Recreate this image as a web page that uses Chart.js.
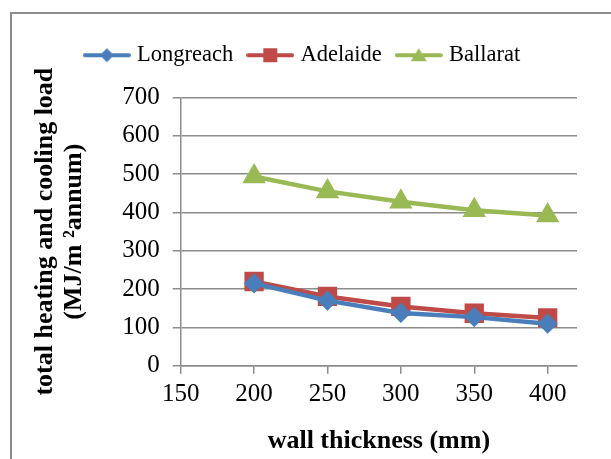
<!DOCTYPE html>
<html>
<head>
<meta charset="utf-8">
<script src="https://cdn.jsdelivr.net/npm/chart.js@4"></script>
<style>
  body { margin: 0; background: #fff; }
  #wrap { position: relative; width: 611px; height: 459px; overflow: hidden; }
  #frame { position: absolute; left: 10px; top: 12px; width: 640px; height: 480px; border: 2px solid #8c8c8c; box-sizing: border-box; }
  canvas { position: absolute; left: 0; top: 0; }
</style>
</head>
<body>
<div id="wrap">
  <div id="frame"></div>
  <canvas id="chart" width="611" height="459"></canvas>
</div>
<script>
'use strict';

// wall thickness (mm)
let thickness = [200, 250, 300, 350, 400];
let longreach = [215, 170, 138, 127, 110];
let adelaide = [220, 181, 155, 137, 125];
let ballarat = [494, 455, 428, 406, 392];
let xTicks = [150, 200, 250, 300, 350, 400];

let blue = '#4a7ebb';
let red = '#be4b48';
let green = '#98b954';

// little canvas with a line and the marker in the middle, used as legend symbol
function legendIcon(color, marker) {
  let c = document.createElement('canvas');
  c.width = 48;
  c.height = 16;
  let ctx = c.getContext('2d');
  ctx.strokeStyle = color;
  ctx.fillStyle = color;
  ctx.lineWidth = 4;
  ctx.lineCap = 'round';
  ctx.beginPath();
  ctx.moveTo(2, 8);
  ctx.lineTo(46, 8);
  ctx.stroke();
  ctx.beginPath();
  if (marker === 'diamond') {
    ctx.moveTo(24, 1); ctx.lineTo(31, 8); ctx.lineTo(24, 15); ctx.lineTo(17, 8);
  } else if (marker === 'square') {
    ctx.rect(17, 1, 14, 14);
  } else {
    ctx.moveTo(24, 1); ctx.lineTo(32, 14); ctx.lineTo(16, 14);
  }
  ctx.closePath();
  ctx.fill();
  return c;
}

function toPoints(values) {
  return values.map((v, i) => ({ x: thickness[i], y: v }));
}

let serif = 'Liberation Serif';

// push the plot area down a bit below the legend
let legendMargin = {
  id: 'legendMargin',
  beforeInit(chart) {
    let fit = chart.legend.fit;
    chart.legend.fit = function () {
      fit.bind(chart.legend)();
      this.height += 21;
    };
  }
};

let ctx = document.getElementById('chart').getContext('2d');
let chart = new Chart(ctx, {
  type: 'line',
  data: {
    datasets: [
      {
        label: 'Longreach',
        data: toPoints(longreach),
        borderColor: blue,
        backgroundColor: blue,
        borderWidth: 4.5,
        pointStyle: 'rectRot',
        pointRadius: 7,
        legendIcon: legendIcon(blue, 'diamond')
      },
      {
        label: 'Adelaide',
        data: toPoints(adelaide),
        borderColor: red,
        backgroundColor: red,
        borderWidth: 4.5,
        pointStyle: 'rect',
        pointRadius: 10.5,
        legendIcon: legendIcon(red, 'square')
      },
      {
        label: 'Ballarat',
        data: toPoints(ballarat),
        borderColor: green,
        backgroundColor: green,
        borderWidth: 4.5,
        pointStyle: 'triangle',
        pointRadius: 9,
        legendIcon: legendIcon(green, 'triangle')
      }
    ]
  },
  plugins: [legendMargin],
  options: {
    responsive: false,
    animation: false,
    layout: { padding: { left: 31, right: 34, top: 26, bottom: 2 } },
    plugins: {
      tooltip: { enabled: false },
      legend: {
        labels: {
          font: { family: serif, size: 22.5 },
          color: '#000',
          usePointStyle: true,
          pointStyleWidth: 38,
          padding: 18,
          generateLabels: function (ch) {
            return ch.data.datasets.map((ds, i) => ({
              text: ds.label,
              pointStyle: ds.legendIcon,
              fillStyle: ds.borderColor,
              strokeStyle: ds.borderColor,
              lineWidth: 0,
              datasetIndex: i,
              hidden: false
            }));
          }
        }
      }
    },
    scales: {
      x: {
        type: 'linear',
        min: 150,
        max: 420,
        afterBuildTicks: function (scale) {
          scale.ticks = xTicks.map(v => ({ value: v }));
        },
        ticks: { font: { family: serif, size: 25 }, color: '#000', padding: 6, maxRotation: 0 },
        grid: { drawOnChartArea: false, color: '#8c8c8c', lineWidth: 1.5, tickLength: 8 },
        border: { color: '#8c8c8c', width: 1.5 },
        title: {
          display: true,
          text: 'wall thickness (mm)',
          font: { family: serif, size: 26, weight: 'bold' },
          color: '#000',
          padding: { top: 10, bottom: 0 }
        }
      },
      y: {
        min: 0,
        max: 700,
        ticks: { stepSize: 100, font: { family: serif, size: 25 }, color: '#000', padding: 13 },
        grid: { color: '#8c8c8c', lineWidth: 1.5, tickLength: 8 },
        border: { color: '#8c8c8c', width: 1.5 },
        title: {
          display: true,
          text: ['total heating and cooling load', '(MJ/m \u00B2annum)'],
          font: { family: serif, size: 26, weight: 'bold', lineHeight: 1.1 },
          color: '#000',
          padding: { top: 0, bottom: 21 }
        }
      }
    }
  }
});
</script>
</body>
</html>
